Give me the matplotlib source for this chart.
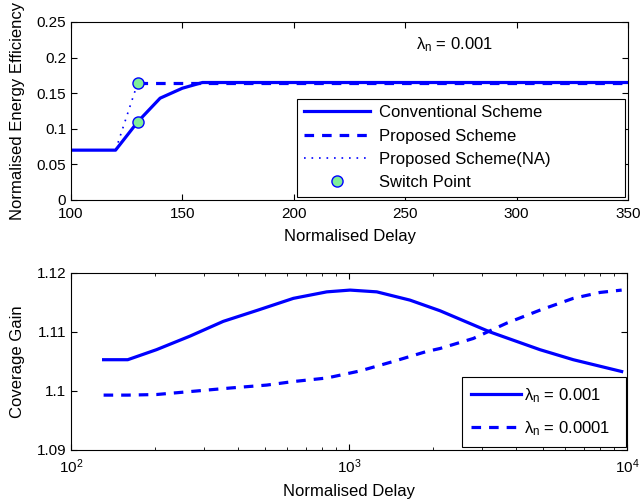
import numpy as np
import matplotlib
matplotlib.use('Agg')
import matplotlib.pyplot as plt
from matplotlib.ticker import LogLocator, NullFormatter

plt.rcParams['font.family'] = ['Liberation Sans', 'DejaVu Sans']
plt.rcParams['mathtext.fontset'] = 'custom'
plt.rcParams['mathtext.rm'] = 'Liberation Sans'
plt.rcParams['mathtext.it'] = 'Liberation Sans'

# top panel: energy efficiency vs delay (lambda_n = 0.001)
conv_x = [100, 120, 130, 140, 150, 159, 350]
conv_y = [0.07, 0.07, 0.11, 0.143, 0.157, 0.165, 0.165]
prop_x = [130, 350]
prop_y = [0.165, 0.165]
na_x = [100, 120, 130]
na_y = [0.07, 0.07, 0.165]
switch_x = [130, 130]
switch_y = [0.11, 0.165]

# bottom panel: coverage gain vs delay
d1 = [131, 160, 203, 268, 353, 470, 631, 832, 1009, 1259, 1657, 2125, 3217,
      4864, 6410, 9570]
g1 = [1.1053, 1.1053, 1.1070, 1.1093, 1.1118, 1.1137, 1.1157, 1.1168, 1.1171,
      1.1168, 1.1154, 1.1136, 1.1100, 1.1070, 1.1053, 1.1033]
d2 = [131, 160, 203, 268, 373, 506, 631, 832, 1096, 1443, 1903, 2125, 2800,
      3693, 4864, 6410, 7996, 9570]
g2 = [1.0993, 1.0993, 1.0994, 1.0999, 1.1005, 1.1010, 1.1016, 1.1022, 1.1034,
      1.1050, 1.1067, 1.1072, 1.1089, 1.1115, 1.1137, 1.1157, 1.1167, 1.1171]

blue = '#0000ff'
green = '#80ee98'

fig = plt.figure(figsize=(6.42, 5.03), dpi=100)
ax1 = fig.add_axes([0.1106, 0.6024, 0.8676, 0.3539])
ax2 = fig.add_axes([0.1106, 0.1054, 0.866, 0.3519])

ax1.plot(conv_x, conv_y, '-', color=blue, lw=2.3, label='Conventional Scheme')
ax1.plot(prop_x, prop_y, '--', color=blue, lw=2.3, dashes=(3, 2.5), label='Proposed Scheme')
ax1.plot(na_x, na_y, ':', color=blue, lw=1.2, dashes=(1, 3.5), label='Proposed Scheme(NA)')
ax1.plot(switch_x, switch_y, 'o', ls='none', ms=8, mfc=green, mec=blue, mew=1,
         label='Switch Point', zorder=5)
ax1.set_xlim(100, 350)
ax1.set_ylim(0, 0.25)
ax1.set_yticks([0, 0.05, 0.1, 0.15, 0.2, 0.25])
ax1.set_yticklabels(['0', '0.05', '0.1', '0.15', '0.2', '0.25'])
ax1.set_xlabel('Normalised Delay', fontsize=12, labelpad=6)
ax1.set_ylabel('Normalised Energy Efficiency', fontsize=12, labelpad=8)
ax1.text(272, 0.218, r'$\lambda_\mathrm{n}$ = 0.001', ha='center', va='center', fontsize=12)
leg1 = ax1.legend(loc='lower left', bbox_to_anchor=(0.406, 0.017, 0.589, 0.5), mode='expand',
                  fancybox=False, framealpha=1, edgecolor='black', borderaxespad=0,
                  handlelength=4.0, handletextpad=0.5, fontsize=12, labelspacing=0.5,
                  borderpad=0.4)
leg1.get_frame().set_linewidth(0.8)

ax2.semilogx(d1, g1, '-', color=blue, lw=2.3, label=r'$\lambda_\mathrm{n}$ = 0.001')
ax2.semilogx(d2, g2, '--', color=blue, lw=2.3, dashes=(3, 2.5), label=r'$\lambda_\mathrm{n}$ = 0.0001')
ax2.set_xlim(100, 10000)
ax2.set_ylim(1.09, 1.12)
ax2.set_yticks([1.09, 1.1, 1.11, 1.12])
ax2.set_yticklabels(['1.09', '1.1', '1.11', '1.12'])
ax2.xaxis.set_minor_locator(LogLocator(base=10, subs=np.arange(2, 10)))
ax2.xaxis.set_minor_formatter(NullFormatter())
ax2.set_xlabel('Normalised Delay', fontsize=12, labelpad=6)
ax2.set_ylabel('Coverage Gain', fontsize=12, labelpad=8)
leg2 = ax2.legend(loc='lower left', bbox_to_anchor=(0.703, 0.017, 0.295, 0.4), mode='expand',
                  fancybox=False, framealpha=1, edgecolor='black', borderaxespad=0,
                  handlelength=3.0, handletextpad=0.15, fontsize=12, labelspacing=0.85,
                  borderpad=0.55)
leg2.get_frame().set_linewidth(0.8)

for ax in (ax1, ax2):
    ax.tick_params(which='both', direction='in', top=True, right=True, labelsize=11)
    ax.tick_params(axis='x', pad=5)
    ax.tick_params(which='major', length=4)
    ax.tick_params(which='minor', length=2.5)
    for s in ax.spines.values():
        s.set_linewidth(0.8)

fig.savefig('out.png', dpi=100)
